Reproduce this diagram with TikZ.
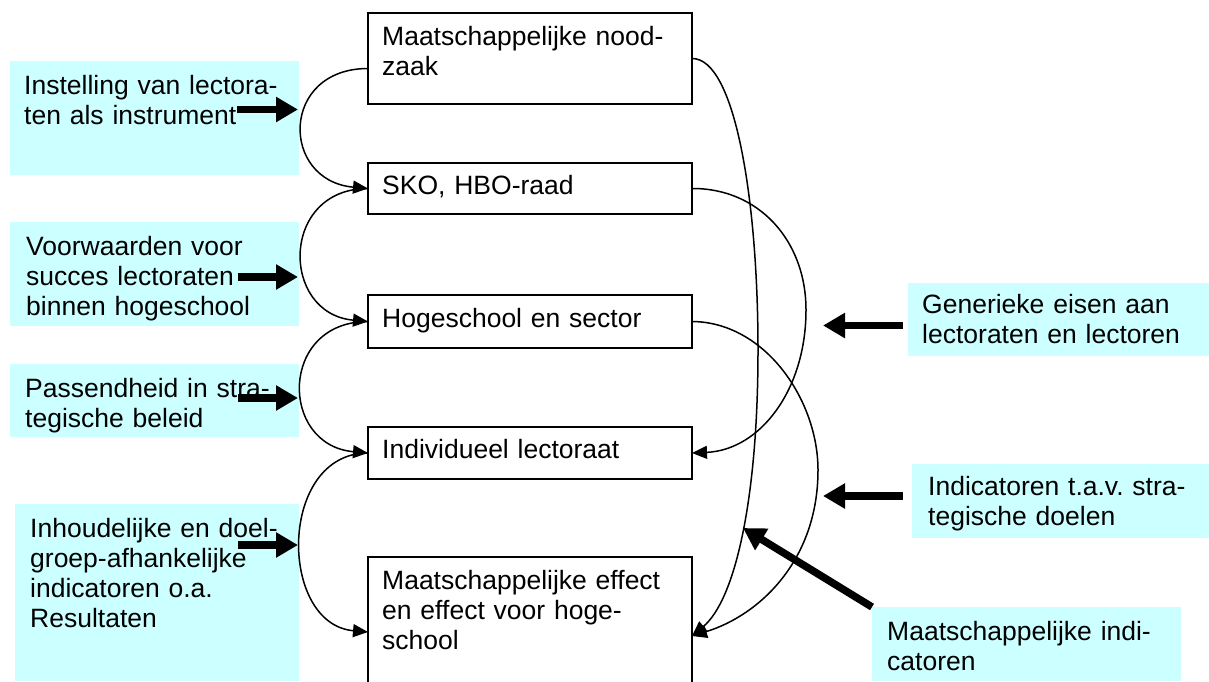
\documentclass[tikz,border=0pt]{standalone}
\usepackage{fontspec}
\setmainfont{Liberation Sans}
\usetikzlibrary{arrows.meta,calc}
\definecolor{lightcyan}{RGB}{204,255,255}
\frenchspacing
\begin{document}
\begin{tikzpicture}[x=1pt,y=-1pt,
  cyanbox/.style={anchor=north west,fill=lightcyan,draw=none,inner sep=0pt,outer sep=0pt},
  mainbox/.style={anchor=north west,draw=black,line width=2pt,fill=white,inner sep=0pt,outer sep=0pt,minimum width=324pt},
  txt/.style={anchor=base west,inner sep=0pt,align=left,text width=330pt,
    font=\fontsize{26.5}{30}\selectfont\frenchspacing},
  thin/.style={line width=1.5pt},
  conn/.style={thin,-{Triangle[length=15pt,width=13pt]}},
  bigarrow/.style={line width=7.5pt,-{Triangle[length=22pt,width=24pt]}}]
\clip (0,0) rectangle (1209,681);
\fill[white] (0,0) rectangle (1209,681);
% cyan boxes
\node[cyanbox,minimum width=289pt,minimum height=114pt] (c1) at (10,61) {};
\node[cyanbox,minimum width=289pt,minimum height=104pt] (c2) at (10,222) {};
\node[cyanbox,minimum width=289pt,minimum height=73pt] (c3) at (10,364) {};
\node[cyanbox,minimum width=284pt,minimum height=177pt] (c4) at (15,504) {};
\node[cyanbox,minimum width=301pt,minimum height=73pt] (r1) at (908,283) {};
\node[cyanbox,minimum width=297pt,minimum height=74pt] (r2) at (912,464) {};
\node[cyanbox,minimum width=309pt,minimum height=74pt] (r3) at (872,607) {};
% cyan texts
\node[txt] (c1t) at (24,94) {Instelling van lectora-\\ten als instrument};
\node[txt] (c2t) at (26,255) {Voorwaarden voor\\succes lectoraten\\binnen hogeschool};
\node[txt] (c3t) at (25,397) {Passendheid in stra-\\tegische beleid};
\node[txt] (c4t) at (30,537) {Inhoudelijke en doel-\\groep-afhankelijke\\indicatoren o.a.\\Resultaten};
\node[txt] (r1t) at (922,313) {Generieke eisen aan\\lectoraten en lectoren};
\node[txt] (r2t) at (928,495) {Indicatoren t.a.v. stra-\\tegische doelen};
\node[txt] (r3t) at (887,640) {Maatschappelijke indi-\\catoren};
% main boxes
\node[mainbox,minimum height=91pt] (b1) at (368,13) {};
\node[mainbox,minimum height=51pt] (b2) at (368,163) {};
\node[mainbox,minimum height=53pt] (b3) at (368,295) {};
\node[mainbox,minimum height=52pt] (b4) at (368,427) {};
\node[mainbox,minimum height=150pt] (b5) at (368,557) {};
\node[txt] (b1t) at (382,45) {Maatschappelijke nood-\\zaak};
\node[txt] (b2t) at (382,194) {SKO, HBO-raad};
\node[txt] (b3t) at (382,327) {Hogeschool en sector};
\node[txt] (b4t) at (382,458) {Individueel lectoraat};
\node[txt] (b5t) at (382,589) {Maatschappelijke effect\\en effect voor hoge-\\school};
% left arcs
\draw[conn] ([yshift=-10pt]b1.west) .. controls +(-88,0) and +(-88,-8) .. (b2.west);
\draw[conn] (b2.west) .. controls +(-88,0) and +(-88,-8) .. (b3.west);
\draw[conn] (b3.west) .. controls +(-89,0) and +(-89,-8) .. (b4.west);
\draw[conn] (b4.west) .. controls +(-90,0) and +(-90,-8) .. (b5.west);
% right curves
\coordinate (m1) at (758,350);
\coordinate (m2) at (806,310);
\coordinate (m3) at (818,470);
\draw[thin] (b1.east) .. controls (735,58) and (758,200) .. (m1);
\draw[conn] (m1) .. controls (758,500) and (735,600) .. ([yshift=-4pt]b5.east);
\draw[thin] (b2.east) .. controls (758,188) and (806,240) .. (m2);
\draw[conn] (m2) .. controls (806,390) and (760,450) .. (b4.east);
\draw[thin] (b3.east) .. controls (765,322) and (818,400) .. (m3);
\draw[conn] (m3) .. controls (818,560) and (760,615) .. ([yshift=-4pt]b5.east);
% thick arrows
\coordinate (a1s) at (237,109.5); \coordinate (a1e) at (298,109.5);
\coordinate (a2s) at (238,277);   \coordinate (a2e) at (298,277);
\coordinate (a3s) at (238,398);   \coordinate (a3e) at (298,398);
\coordinate (a4s) at (238,545);   \coordinate (a4e) at (298,545);
\coordinate (a5s) at (903,325.5); \coordinate (a5e) at (823,325.5);
\coordinate (a6s) at (903,496);   \coordinate (a6e) at (823,496);
\coordinate (a7s) at (872,607);   \coordinate (a7e) at (743,528);
\draw[bigarrow] (a1s) -- (a1e);
\draw[bigarrow] (a2s) -- (a2e);
\draw[bigarrow] (a3s) -- (a3e);
\draw[bigarrow] (a4s) -- (a4e);
\draw[bigarrow] (a5s) -- (a5e);
\draw[bigarrow] (a6s) -- (a6e);
\draw[bigarrow] (a7s) -- (a7e);
\end{tikzpicture}
\end{document}
